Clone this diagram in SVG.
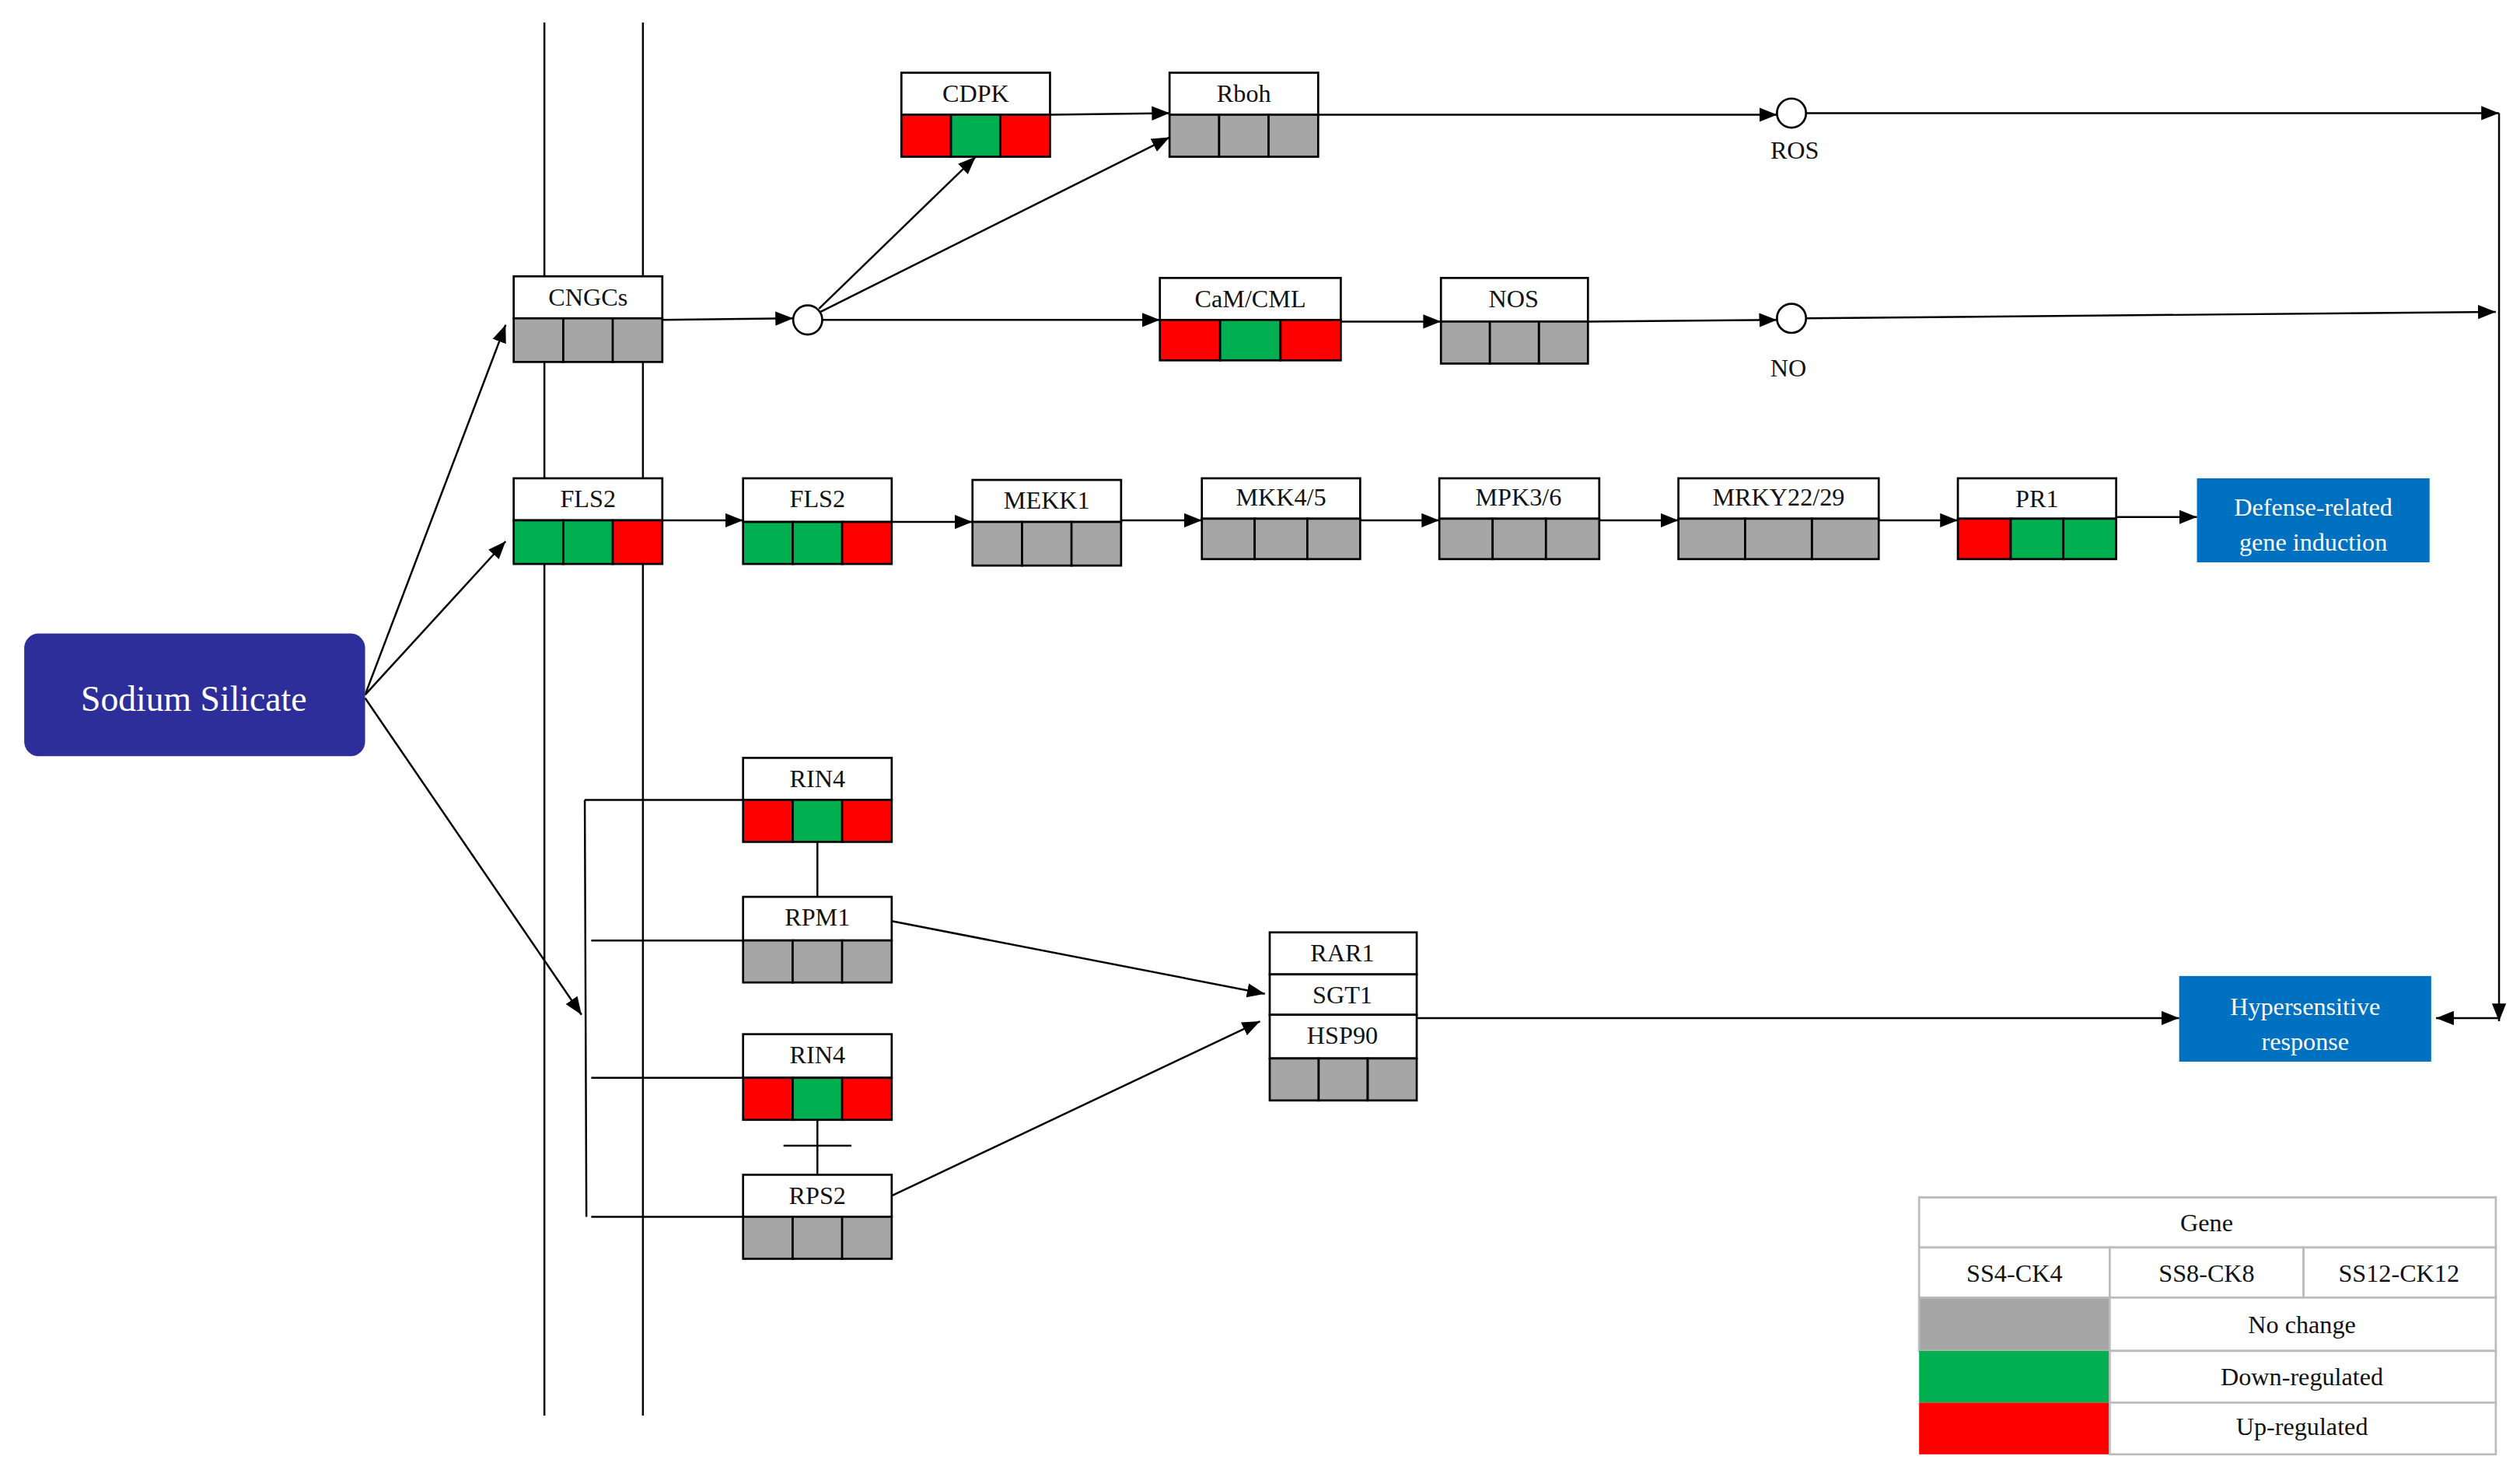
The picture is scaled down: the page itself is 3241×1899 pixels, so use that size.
<svg xmlns="http://www.w3.org/2000/svg" width="3241" height="1899" viewBox="0 0 3241 1899">
<defs>
<style>
.b{fill:#fff;stroke:#000;stroke-width:1.3}
.g{fill:#A6A6A6;stroke:#000;stroke-width:1.3}
.n{fill:#00B050;stroke:#000;stroke-width:1.3}
.r{fill:#FF0000;stroke:#000;stroke-width:1.3}
.t{font-family:"Liberation Serif",serif;font-size:15.5px;text-anchor:middle;fill:#111}
.w{font-family:"Liberation Serif",serif;font-size:15.5px;text-anchor:middle;fill:#fff}
.l{stroke:#000;stroke-width:1.2;fill:none}
.a{stroke:#000;stroke-width:1.2;fill:none;marker-end:url(#ar)}
.lg{fill:#fff;stroke:#BBB;stroke-width:1.3}
</style>
<marker id="ar" viewBox="0 0 10 8" refX="10" refY="4" markerWidth="11" markerHeight="9" markerUnits="userSpaceOnUse" orient="auto"><path d="M0,0L10,4L0,8Z" fill="#000"/></marker>
</defs>
<rect width="3241" height="1899" fill="#fff"/>
<g transform="scale(2.0776)">
<g id="membrane"><line class="l" x1="337" y1="14" x2="337" y2="876"/><line class="l" x1="398" y1="14" x2="398" y2="876"/></g>
<g id="connectors">
<path class="a" d="M226,430L313,201"/>
<path class="a" d="M226,430L313,335"/>
<path class="a" d="M226,432L360,628"/>
<path class="a" d="M410,198L491,197"/>
<path class="a" d="M507,191L604,97"/>
<path class="a" d="M508,193L724,85"/>
<path class="a" d="M509,198L718,198"/>
<path class="a" d="M650,71L724,70"/>
<path class="a" d="M816,71L1100,71"/>
<path class="a" d="M830,199L892,199"/>
<path class="a" d="M983,199L1100,198"/>
<path class="a" d="M1118,70L1547,70"/>
<path class="a" d="M1118,197L1545,193"/>
<path class="a" d="M1547,70L1547,632"/>
<path class="a" d="M1547,630L1508,630"/>
<path class="a" d="M410,322L460,322"/>
<path class="a" d="M552,323L602,323"/>
<path class="a" d="M694,322L744,322"/>
<path class="a" d="M842,322L891,322"/>
<path class="a" d="M990,322L1039,322"/>
<path class="a" d="M1163,322L1212,322"/>
<path class="a" d="M1310,320L1360,320"/>
<path class="l" d="M362,495L460,495M362,495L363,753M366,582L460,582M366,667L460,667M366,753L460,753"/>
<path class="l" d="M506,521L506,555M506,693L506,727M485,709L527,709"/>
<path class="a" d="M552,570L783,615"/>
<path class="a" d="M552,740L780,632"/>
<path class="a" d="M877,630L1349,630"/>
</g>
<g id="sodium"><rect x="15" y="392" width="211" height="76" rx="9" fill="#2E2E9A"/><text class="w" x="120" y="440" style="font-size:22px">Sodium Silicate</text></g>
<g id="ros"><circle cx="1109" cy="70" r="9" class="b"/><text class="t" x="1111" y="98">ROS</text></g>
<g id="no"><circle cx="1109" cy="197" r="9" class="b"/><text class="t" x="1107" y="233">NO</text></g>
<circle id="junction" cx="500" cy="198" r="9" class="b"/>
<g id="cdpk"><rect class="b" x="558" y="45" width="92" height="26"/><text class="t" x="604" y="63">CDPK</text><rect class="r" x="558" y="71" width="30.7" height="26"/><rect class="n" x="588.7" y="71" width="30.7" height="26"/><rect class="r" x="619.3" y="71" width="30.7" height="26"/></g>
<g id="rboh"><rect class="b" x="724" y="45" width="92" height="26"/><text class="t" x="770" y="63">Rboh</text><rect class="g" x="724" y="71" width="30.7" height="26"/><rect class="g" x="754.7" y="71" width="30.7" height="26"/><rect class="g" x="785.3" y="71" width="30.7" height="26"/></g>
<g id="cngcs"><rect class="b" x="318" y="171" width="92" height="26"/><text class="t" x="364" y="189">CNGCs</text><rect class="g" x="318" y="197" width="30.7" height="27"/><rect class="g" x="348.7" y="197" width="30.7" height="27"/><rect class="g" x="379.3" y="197" width="30.7" height="27"/></g>
<g id="cam"><rect class="b" x="718" y="172" width="112" height="26"/><text class="t" x="774" y="190">CaM/CML</text><rect class="r" x="718" y="198" width="37.3" height="25"/><rect class="n" x="755.3" y="198" width="37.3" height="25"/><rect class="r" x="792.7" y="198" width="37.3" height="25"/></g>
<g id="nos"><rect class="b" x="892" y="172" width="91" height="27"/><text class="t" x="937" y="190">NOS</text><rect class="g" x="892" y="199" width="30.3" height="26"/><rect class="g" x="922.3" y="199" width="30.3" height="26"/><rect class="g" x="952.7" y="199" width="30.3" height="26"/></g>
<g id="fls2a"><rect class="b" x="318" y="296" width="92" height="26"/><text class="t" x="364" y="314">FLS2</text><rect class="n" x="318" y="322" width="30.7" height="27"/><rect class="n" x="348.7" y="322" width="30.7" height="27"/><rect class="r" x="379.3" y="322" width="30.7" height="27"/></g>
<g id="fls2b"><rect class="b" x="460" y="296" width="92" height="27"/><text class="t" x="506" y="314">FLS2</text><rect class="n" x="460" y="323" width="30.7" height="26"/><rect class="n" x="490.7" y="323" width="30.7" height="26"/><rect class="r" x="521.3" y="323" width="30.7" height="26"/></g>
<g id="mekk1"><rect class="b" x="602" y="297" width="92" height="26"/><text class="t" x="648" y="315">MEKK1</text><rect class="g" x="602" y="323" width="30.7" height="27"/><rect class="g" x="632.7" y="323" width="30.7" height="27"/><rect class="g" x="663.3" y="323" width="30.7" height="27"/></g>
<g id="mkk45"><rect class="b" x="744" y="296" width="98" height="25"/><text class="t" x="793" y="313">MKK4/5</text><rect class="g" x="744" y="321" width="32.7" height="25"/><rect class="g" x="776.7" y="321" width="32.7" height="25"/><rect class="g" x="809.3" y="321" width="32.7" height="25"/></g>
<g id="mpk36"><rect class="b" x="891" y="296" width="99" height="25"/><text class="t" x="940" y="313">MPK3/6</text><rect class="g" x="891" y="321" width="33" height="25"/><rect class="g" x="924" y="321" width="33" height="25"/><rect class="g" x="957" y="321" width="33" height="25"/></g>
<g id="mrky"><rect class="b" x="1039" y="296" width="124" height="25"/><text class="t" x="1101" y="313">MRKY22/29</text><rect class="g" x="1039" y="321" width="41.3" height="25"/><rect class="g" x="1080.3" y="321" width="41.3" height="25"/><rect class="g" x="1121.7" y="321" width="41.3" height="25"/></g>
<g id="pr1"><rect class="b" x="1212" y="296" width="98" height="25"/><text class="t" x="1261" y="314">PR1</text><rect class="r" x="1212" y="321" width="32.7" height="25"/><rect class="n" x="1244.7" y="321" width="32.7" height="25"/><rect class="n" x="1277.3" y="321" width="32.7" height="25"/></g>
<g id="defense"><rect x="1360" y="296" width="144" height="52" fill="#0070C0"/><text class="w" x="1432" y="319">Defense-related</text><text class="w" x="1432" y="341">gene induction</text></g>
<g id="rin4a"><rect class="b" x="460" y="469" width="92" height="26"/><text class="t" x="506" y="487">RIN4</text><rect class="r" x="460" y="495" width="30.7" height="26"/><rect class="n" x="490.7" y="495" width="30.7" height="26"/><rect class="r" x="521.3" y="495" width="30.7" height="26"/></g>
<g id="rpm1"><rect class="b" x="460" y="555" width="92" height="27"/><text class="t" x="506" y="573">RPM1</text><rect class="g" x="460" y="582" width="30.7" height="26"/><rect class="g" x="490.7" y="582" width="30.7" height="26"/><rect class="g" x="521.3" y="582" width="30.7" height="26"/></g>
<g id="rin4b"><rect class="b" x="460" y="640" width="92" height="27"/><text class="t" x="506" y="658">RIN4</text><rect class="r" x="460" y="667" width="30.7" height="26"/><rect class="n" x="490.7" y="667" width="30.7" height="26"/><rect class="r" x="521.3" y="667" width="30.7" height="26"/></g>
<g id="rps2"><rect class="b" x="460" y="727" width="92" height="26"/><text class="t" x="506" y="745">RPS2</text><rect class="g" x="460" y="753" width="30.7" height="26"/><rect class="g" x="490.7" y="753" width="30.7" height="26"/><rect class="g" x="521.3" y="753" width="30.7" height="26"/></g>
<g id="rar1"><rect class="b" x="786" y="577" width="91" height="26"/><text class="t" x="831" y="595">RAR1</text><rect class="b" x="786" y="603" width="91" height="25"/><text class="t" x="831" y="621">SGT1</text><rect class="b" x="786" y="628" width="91" height="27"/><text class="t" x="831" y="646">HSP90</text><rect class="g" x="786" y="655" width="30.3" height="26"/><rect class="g" x="816.3" y="655" width="30.3" height="26"/><rect class="g" x="846.7" y="655" width="30.3" height="26"/></g>
<g id="hyper"><rect x="1349" y="604" width="156" height="53" fill="#0070C0"/><text class="w" x="1427" y="628">Hypersensitive</text><text class="w" x="1427" y="650">response</text></g>
<g id="legend">
<rect class="lg" x="1188" y="741" width="357" height="31"/><text class="t" x="1366" y="762">Gene</text>
<rect class="lg" x="1188" y="772" width="118" height="31"/><rect class="lg" x="1306" y="772" width="120" height="31"/><rect class="lg" x="1426" y="772" width="119" height="31"/>
<text class="t" x="1247" y="793">SS4-CK4</text><text class="t" x="1366" y="793">SS8-CK8</text><text class="t" x="1485" y="793">SS12-CK12</text>
<rect x="1188" y="803" width="118" height="33" fill="#A6A6A6" stroke="#BBB" stroke-width="1.3"/><rect class="lg" x="1306" y="803" width="239" height="33"/><text class="t" x="1425" y="825">No change</text>
<rect x="1188" y="836" width="118" height="32" fill="#00B050"/><rect class="lg" x="1306" y="836" width="239" height="32"/><text class="t" x="1425" y="857">Down-regulated</text>
<rect x="1188" y="868" width="118" height="32" fill="#FF0000"/><rect class="lg" x="1306" y="868" width="239" height="32"/><text class="t" x="1425" y="888">Up-regulated</text>
</g>
</g>
</svg>
